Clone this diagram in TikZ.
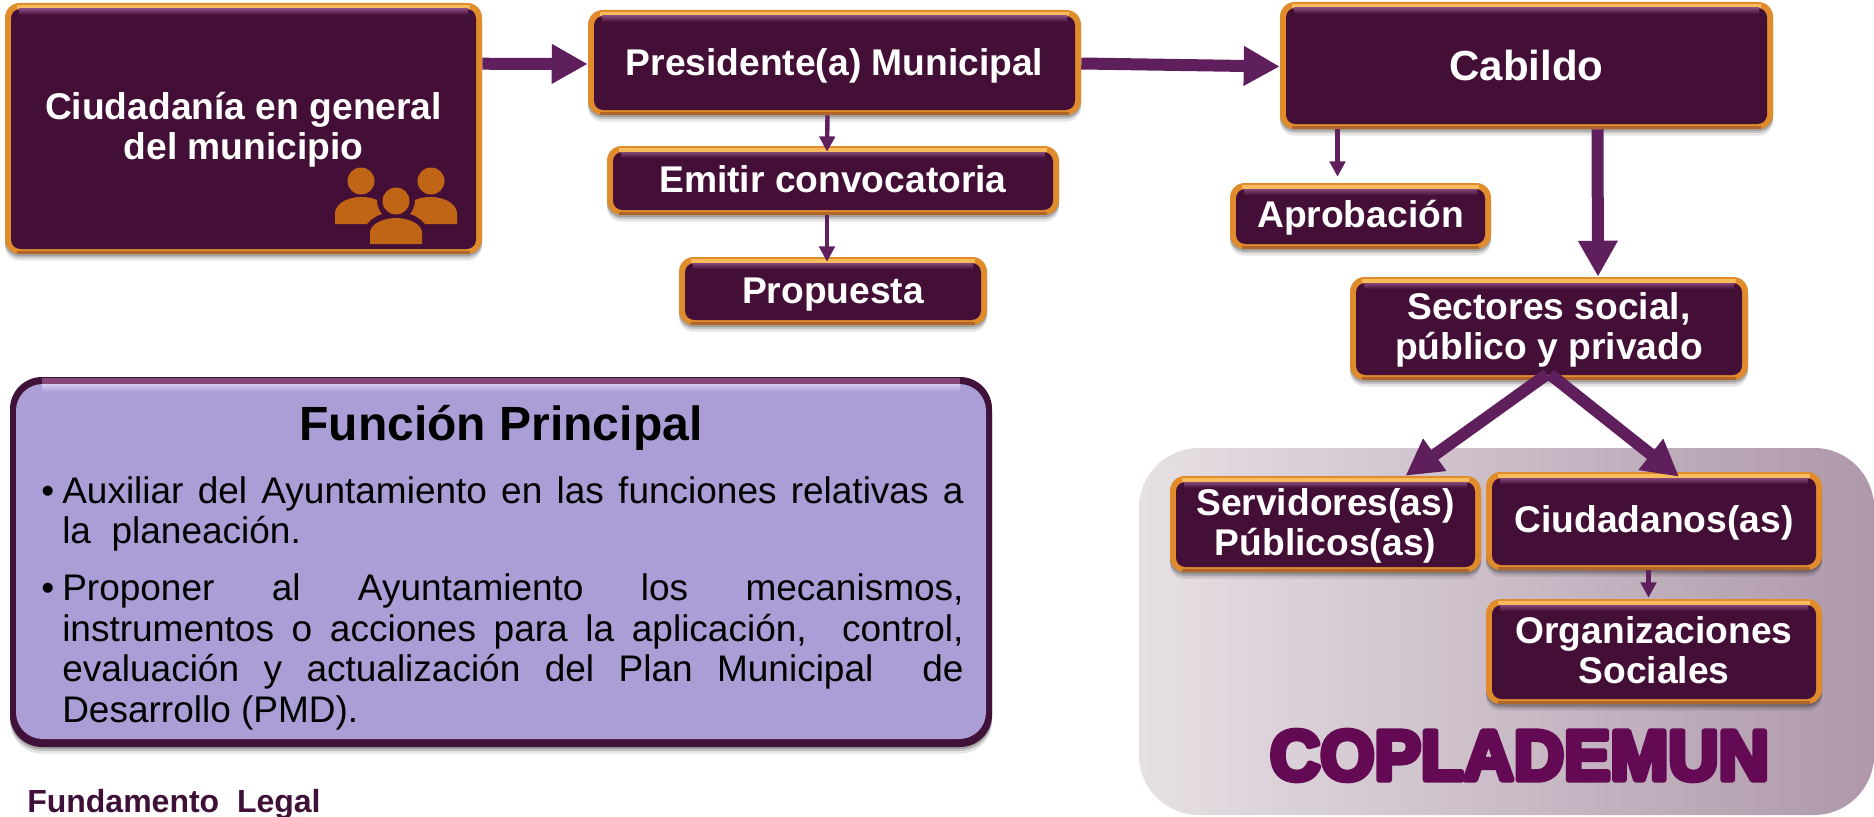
\documentclass[tikz,border=0pt]{standalone}
\usepackage{fontspec}
\setmainfont{Liberation Sans}
\newfontfamily\blackfont[FakeBold=8,FakeStretch=0.985]{Liberation Sans Bold}
\usetikzlibrary{calc,arrows.meta}
\definecolor{boxdark}{HTML}{440F36}
\definecolor{rimtop}{HTML}{F9BC5C}
\definecolor{rimmid}{HTML}{E08C2D}
\definecolor{rimbot}{HTML}{B0662A}
\definecolor{arrowcol}{HTML}{5F1F5C}
\definecolor{iconcol}{HTML}{C06516}
\definecolor{lilac}{HTML}{AB9DD5}
\definecolor{lilactop}{HTML}{D6CAF3}
\definecolor{plumtop}{HTML}{85477A}
\definecolor{plumbot}{HTML}{40123A}
\definecolor{bgleft}{HTML}{E6E0E4}
\definecolor{bgright}{HTML}{AE98AA}
\definecolor{copla}{HTML}{640A54}
\definecolor{legal}{HTML}{3F1038}
\newcommand{\fsz}[1]{\fontsize{#1}{30}\selectfont}
% one line of a label, its baseline placed #1 pt below the node's centre
\newcommand{\tl}[2]{\raisebox{-#1pt}[0pt][0pt]{#2}}
\tikzset{
  softshadow/.style={
    preaction={fill=black,fill opacity=.10,draw=none,transform canvas={yshift=-5pt}},
    preaction={fill=black,fill opacity=.14,draw=none,transform canvas={yshift=-3pt}},
    preaction={fill=black,fill opacity=.18,draw=none,transform canvas={yshift=-1.5pt}}},
  bx/.style 2 args={softshadow,inner sep=0pt,align=center,text=white,
    font=\bfseries\fsz{27.9},rounded corners=11pt,fill=rimmid,
    minimum width=#1*0.75pt,minimum height=#2*0.75pt,
    path picture={
      \fill[rimtop,sharp corners]
        ($(path picture bounding box.north west)+(12,2)$) rectangle
        ($(path picture bounding box.north east)+(-12,6)$);
      \fill[rimbot,sharp corners]
        ($(path picture bounding box.south west)+(12,-3)$) rectangle
        ($(path picture bounding box.south east)+(-12,0)$);
      \fill[boxdark,rounded corners=7pt]
        ($(path picture bounding box.north west)+(6,6)$) rectangle
        ($(path picture bounding box.south east)+(-6,-5)$);
      \shade[sharp corners,top color=plumtop,bottom color=boxdark]
        ($(path picture bounding box.north west)+(14,6)$) rectangle
        ($(path picture bounding box.north east)+(-14,12)$);
    }},
  funbox/.style 2 args={softshadow,inner sep=0pt,rounded corners=24pt,
    fill=plumbot,
    minimum width=#1*0.75pt,minimum height=#2*0.75pt,
    path picture={
      \fill[plumtop,sharp corners]
        ($(path picture bounding box.north west)+(32,1)$) rectangle
        ($(path picture bounding box.north east)+(-32,7)$);
      \fill[lilac,rounded corners=20pt]
        ($(path picture bounding box.north west)+(6,7)$) rectangle
        ($(path picture bounding box.south east)+(-6,-8)$);
      \shade[sharp corners,top color=lilactop,bottom color=lilac]
        ($(path picture bounding box.north west)+(32,7)$) rectangle
        ($(path picture bounding box.north east)+(-32,15)$);
    }},
  fat/.style={draw=arrowcol,line width=9pt,-{Triangle[length=27pt,width=28pt,fill=arrowcol]}},
  thin/.style={draw=arrowcol,line width=3.3pt,-{Triangle[length=11.5pt,width=11.5pt,fill=arrowcol]}},
  person/.style={fill=iconcol,draw=none},
}
\begin{document}
\begin{tikzpicture}[x=0.75pt,y=-0.75pt]
\useasboundingbox (0,0) rectangle (1874,817);
% COPLADEMUN background
\node[inner sep=0pt,rounded corners=45pt,left color=bgleft,right color=bgright,
  minimum width=735*0.75pt,minimum height=367*0.75pt] (panel) at (1506.5,631.5) {};
\node[font=\blackfont\fsz{53},text=copla,inner sep=0pt] (copla) at (1519.5,755.5) {\pgfsetroundjoin COPLADEMUN};
% boxes
\node[bx={477}{251}] (ciu) at (243.5,128.5) {\tl{8.6}{Ciudadanía en general}\\\tl{8.6}{del municipio}};
\node[bx={493}{105}] (pres) at (834.5,62.5) {\tl{9.4}{Presidente(a) Municipal}};
\node[bx={452}{69}] (emi) at (833,180.5) {\tl{9.2}{Emitir convocatoria}};
\node[bx={308}{68}] (prop) at (833,291) {\tl{9.6}{Propuesta}};
\node[bx={493}{127},font=\bfseries\fsz{31.5}] (cab) at (1526.5,65.5) {\tl{11.6}{Cabildo}};
\node[bx={261}{66}] (apr) at (1360.5,216) {\tl{8.8}{Aprobación}};
\node[bx={398}{103}] (sec) at (1549,328.5) {\tl{8.2}{Sectores social,}\\\tl{8.2}{público y privado}};
\node[bx={311}{96}] (serv) at (1325.5,524) {\tl{8.5}{Servidores(as)}\\\tl{8.5}{Públicos(as)}};
\node[bx={336}{98}] (ciud) at (1654,521) {\tl{8.5}{Ciudadanos(as)}};
\node[bx={336}{105}] (org) at (1654,651.5) {\tl{9}{Organizaciones}\\\tl{9}{Sociales}};
% icon
\fill[person] (361,181) circle (13.5);
\fill[person] (431,181) circle (13.5);
\fill[person] (396,201) circle (13.5);
\fill[person] (370,244) -- (370,232) .. controls (371,223) and (385,218) .. (396,218)
  .. controls (407,218) and (421,223) .. (422,232) -- (422,244) -- cycle;
\fill[person] (335,224) -- (335,212) .. controls (337,202) and (350,197) .. (361,197)
  .. controls (367,197) and (373,198) .. (377,200) .. controls (377,206) and (379,210) .. (382,214)
  .. controls (376,216) and (371,219) .. (367,224) -- cycle;
\fill[person] (457,224) -- (457,212) .. controls (455,202) and (442,197) .. (431,197)
  .. controls (425,197) and (419,198) .. (415,200) .. controls (415,206) and (413,210) .. (410,214)
  .. controls (416,216) and (421,219) .. (425,224) -- cycle;
% connectors
\draw[fat] ($(ciu.north east)+(0,61)$) -- ($(pres.west)+(0,1.5)$);
\draw[fat] ($(pres.east)+(0,1)$) -- ($(cab.west)+(0,1)$);
\draw[thin] ($(pres.south)+(-7,0)$) -- ($(emi.north)+(-6,6)$);
\draw[thin] ($(emi.south)+(-6,0)$) -- ($(prop.north)+(-6,5)$);
\draw[thin] ($(cab.south)+(-189,0)$) -- ($(apr.north)+(-23,-6)$);
\draw[fat] ($(cab.south)+(71,0)$) -- ($(sec.north)+(49,0)$);
\draw[fat] ($(sec.south)+(-2,-6)$) -- ($(serv.north)+(80,0)$);
\draw[fat] ($(sec.south)+(1,-6)$) -- ($(ciud.north)+(25,5)$);
\draw[thin] ($(ciud.south)+(-5.5,0)$) -- ($(org.north)+(-5.5,-1)$);
% function box
\node[funbox={982}{370}] (fun) at (501,562) {};
\node[inner sep=0pt,font=\bfseries\fsz{36},text=black] (funt) at (501,428) {Función Principal};
\node[inner sep=0pt,anchor=north west,text width=676pt,align=justify,
  font=\fontsize{27.75}{30.4}\selectfont,text=black] (funb) at (62,476) {%
  \leavevmode\llap{•\hspace{6pt}}Auxiliar del Ayuntamiento en las funciones relativas a\linebreak
  la\ \ planeación.\par\vspace{12.4pt}
  \leavevmode\llap{•\hspace{6pt}}Proponer al Ayuntamiento los mecanismos,\linebreak
  instrumentos o acciones para la aplicación,\ \ control,\linebreak
  evaluación y actualización del Plan Municipal\ \ de\linebreak
  Desarrollo (PMD).};
\node[inner sep=0pt,anchor=base west,font=\bfseries\fsz{24},text=legal] (fund) at (27,812) {Fundamento\ \ Legal};
\end{tikzpicture}
\end{document}
